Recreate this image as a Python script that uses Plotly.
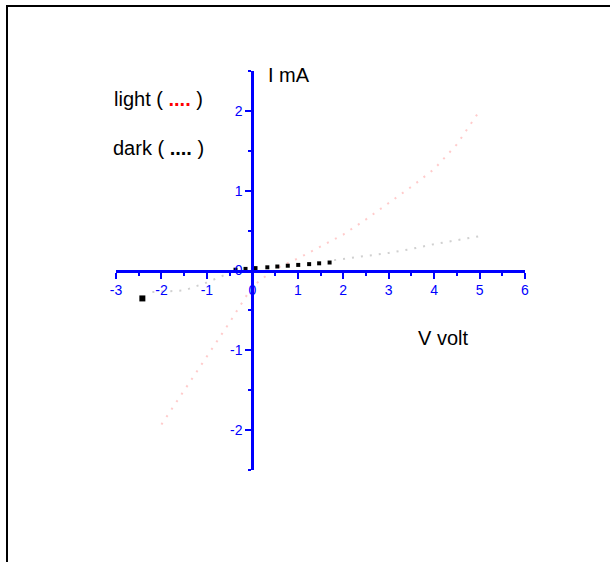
import plotly.graph_objects as go

# light curve (pink)
light_v = [-2.0, -1.5, -1.0, -0.5, 0.0, 0.5, 1.0, 1.5, 2.0, 2.5, 3.0, 3.5, 4.0, 4.5, 5.0]
light_i = [-1.93, -1.5, -1.07, -0.65, -0.2, 0.02, 0.15, 0.3, 0.45, 0.64, 0.84, 1.05, 1.27, 1.58, 2.0]

# dark curve (grey), reverse part and forward part
dark_rev_v = [-2.2, -1.5, -1.0, -0.5]
dark_rev_i = [-0.27, -0.25, -0.15, -0.03]
dark_fwd_v = [1.8, 2.5, 3.0, 3.5, 4.0, 4.5, 5.0]
dark_fwd_i = [0.13, 0.18, 0.22, 0.27, 0.33, 0.38, 0.43]

# dark curve, black square points near origin
dark_pts_v = [-0.37, -0.15, 0.07, 0.33, 0.55, 0.78, 1.01, 1.25, 1.47, 1.7]
dark_pts_i = [0.01, 0.02, 0.03, 0.04, 0.05, 0.06, 0.07, 0.08, 0.09, 0.10]

# single point on the left
odd_v = [-2.42]
odd_i = [-0.35]

x_ticks = [-3, -2, -1, 0, 1, 2, 3, 4, 5, 6]
x_labels = ['-3', '-2', '-1', '0', '1', '2', '3', '4', '5', '6']
y_ticks = [-2, -1, 0, 1, 2]
y_labels = ['-2', '-1', '0', '1', '2']

BLUE = '#0000ff'

fig = go.Figure()
fig.add_trace(go.Scatter(
    x=light_v, y=light_i, mode='lines',
    line=dict(color='rgba(255,160,160,0.55)', width=2, dash='2px,7px'),
))
fig.add_trace(go.Scatter(
    x=dark_rev_v + [None] + dark_fwd_v, y=dark_rev_i + [None] + dark_fwd_i,
    mode='lines',
    line=dict(color='rgba(170,170,170,0.55)', width=2, dash='2px,7px'),
))
fig.add_trace(go.Scatter(
    x=dark_pts_v, y=dark_pts_i, mode='markers',
    marker=dict(symbol='square', size=4, color='black'),
))
fig.add_trace(go.Scatter(
    x=odd_v, y=odd_i, mode='markers',
    marker=dict(symbol='square', size=6, color='black'),
))

txt = dict(family='Liberation Sans, Arial', size=20, color='black')


def px_x(p):
    return (p - 116) / 409


def px_y(p):
    return (470 - p) / 399


labels = [
    (112, 99, 'light ( <span style="color:red"><b>....</b></span> )'),
    (111, 148, 'dark ( <b>....</b> )'),
    (266, 75, 'I mA'),
    (416, 338, 'V volt'),
]
for lx, ly, t in labels:
    fig.add_annotation(x=px_x(lx), y=px_y(ly), xref='paper', yref='paper',
                       xanchor='left', yanchor='middle', showarrow=False,
                       font=txt, text=t)

# frame round the page
fig.add_shape(type='rect', xref='paper', yref='paper',
              x0=px_x(7), x1=px_x(640), y0=px_y(620), y1=px_y(6),
              line=dict(color='black', width=2))

axis_common = dict(
    showgrid=False, zeroline=False, showline=True,
    linecolor=BLUE, linewidth=3,
    ticks='outside', ticklen=6, tickwidth=2, tickcolor=BLUE,
    tickfont=dict(family='Liberation Sans, Arial', size=14, color=BLUE),
    minor=dict(ticks='outside', ticklen=3, tickwidth=2, tickcolor=BLUE, dtick=0.5, showgrid=False),
    anchor='free', fixedrange=True,
)

fig.update_layout(
    width=610, height=562,
    margin=dict(l=116, r=85, t=71, b=92),
    plot_bgcolor='white', paper_bgcolor='white',
    xaxis=dict(range=[-3, 6], tickvals=x_ticks, ticktext=x_labels, position=0.5, **axis_common),
    yaxis=dict(range=[-2.5, 2.5], tickvals=y_ticks, ticktext=y_labels, position=1 / 3, **axis_common),
    showlegend=False,
)

fig.write_html("out.html", config={'displayModeBar': False},
               post_script="document.body.style.margin='0';")
